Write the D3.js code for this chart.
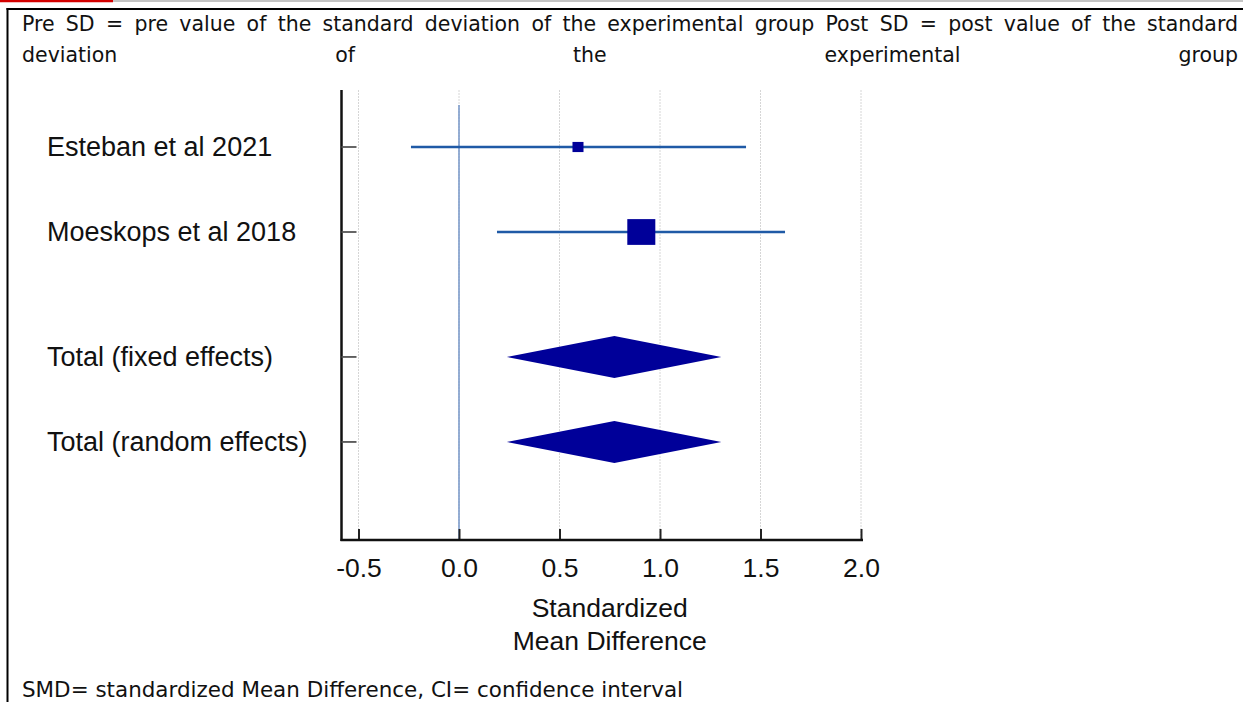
<!DOCTYPE html>
<html lang="en">
<head>
    <meta charset="UTF-8">
    <title>Forest plot - SMD</title>
    <style>
        body {
            margin: 0;
            background-color: #ffffff;
            overflow: hidden;
        }
        svg {
            display: block;
        }
        .note {
            font-family: "DejaVu Sans", sans-serif;
            font-size: 20.5px;
            fill: #111;
        }
        .label, .tick text, .axis-title {
            font-family: "Liberation Sans", Arial, sans-serif;
            font-size: 26.5px;
            fill: #111;
        }
        .label {
            font-size: 27px;
        }
    </style>
</head>
<body>
    <svg id="chart"></svg>

    <script src="https://d3js.org/d3.v7.min.js"></script>
    <script>
        // study rows
        const studies = ["Esteban et al 2021", "Moeskops et al 2018"];
        const smd = [0.592, 0.907];
        const ciLow = [-0.239, 0.189];
        const ciHigh = [1.428, 1.622];
        const weights = [13.4, 86.6]; // % weight, drives square size

        // pooled rows
        const totals = ["Total (fixed effects)", "Total (random effects)"];
        const totalSmd = [0.773, 0.773];
        const totalLow = [0.238, 0.238];
        const totalHigh = [1.305, 1.305];

        const xTicks = [-0.5, 0, 0.5, 1.0, 1.5, 2.0];
        const xTitle = ["Standardized", "Mean Difference"];

        const headerLines = [
            "Pre SD = pre value of the standard deviation of the experimental group Post SD = post value of the standard",
            "deviation of the experimental group"
        ];
        const footnote = "SMD= standardized Mean Difference, CI= confidence interval";

        const W = 1243, H = 702;
        const svg = d3.select("#chart").attr("width", W).attr("height", H);

        svg.append("rect").attr("width", W).attr("height", H).attr("fill", "#fff");

        // page frame bits around the figure
        svg.append("line").attr("x1", 0).attr("x2", W).attr("y1", 1).attr("y2", 1)
            .attr("stroke", "#b0b0b0").attr("stroke-width", 1.5);
        svg.append("line").attr("x1", 0).attr("x2", 113).attr("y1", 1).attr("y2", 1)
            .attr("stroke", "#d40000").attr("stroke-width", 2.5);
        svg.append("line").attr("x1", 6.5).attr("x2", W).attr("y1", 9).attr("y2", 9)
            .attr("stroke", "#000").attr("stroke-width", 2);
        svg.append("line").attr("x1", 7.5).attr("x2", 7.5).attr("y1", 8).attr("y2", H)
            .attr("stroke", "#000").attr("stroke-width", 2);

        // justified header text, word by word
        const textLeft = 22, textRight = 1238;
        const lineBase = [31, 62];
        headerLines.forEach((line, i) => {
            const words = line.split(" ");
            const g = svg.append("g");
            const nodes = g.selectAll("text").data(words).enter().append("text")
                .attr("class", "note")
                .attr("y", lineBase[i])
                .text(d => d);
            const widths = nodes.nodes().map(n => n.getComputedTextLength());
            const gap = (textRight - textLeft - d3.sum(widths)) / (words.length - 1);
            let cx = textLeft;
            nodes.attr("x", (d, j) => {
                const pos = cx;
                cx += widths[j] + gap;
                return pos;
            });
        });

        svg.append("text").attr("class", "note")
            .attr("x", textLeft).attr("y", 697)
            .attr("textLength", 661).attr("lengthAdjust", "spacingAndGlyphs")
            .text(footnote);

        // scales
        const x = d3.scaleLinear().domain([-0.5, 2.0]).range([358.5, 861]);
        const rowY = d3.scaleLinear().domain([0, 1]).range([147, 232]);
        const size = d3.scaleSqrt().domain([0, 100]).range([0, 30.1]);

        const axisLeftX = 341.5, plotTop = 90, plotBottom = 540;

        const rows = studies.map((s, i) => ({
            name: s, est: smd[i], lo: ciLow[i], hi: ciHigh[i], w: weights[i], pos: i
        }));
        const pooled = totals.map((s, i) => ({
            name: s, est: totalSmd[i], lo: totalLow[i], hi: totalHigh[i], pos: studies.length + 0.47 + i
        }));
        const allRows = rows.concat(pooled);

        // gridlines
        svg.append("g").selectAll("line").data(xTicks).enter().append("line")
            .attr("x1", d => x(d)).attr("x2", d => x(d))
            .attr("y1", plotTop).attr("y2", plotBottom)
            .attr("stroke", "#d6d6d6").attr("stroke-width", 1)
            .attr("stroke-dasharray", "2,1");

        // line of no effect
        svg.append("line")
            .attr("x1", x(0)).attr("x2", x(0))
            .attr("y1", 105).attr("y2", plotBottom)
            .attr("stroke", "#7496c8").attr("stroke-width", 1.5);

        // x axis
        const xAxis = svg.append("g")
            .attr("transform", `translate(0,${plotBottom})`)
            .call(d3.axisBottom(x).tickValues(xTicks)
                .tickFormat(d3.format(".1f"))
                .tickSizeInner(-11).tickSizeOuter(0).tickPadding(18));
        xAxis.select(".domain").remove();
        xAxis.selectAll(".tick line").attr("stroke", "#222").attr("stroke-width", 2);
        xAxis.selectAll(".tick text").attr("fill", "#111")
            .text(d => d3.format(".1f")(d).replace("−", "-"));
        xAxis.attr("font-family", null).attr("font-size", null);

        svg.append("line")
            .attr("x1", axisLeftX - 1).attr("x2", 863)
            .attr("y1", plotBottom).attr("y2", plotBottom)
            .attr("stroke", "#111").attr("stroke-width", 2.5);

        // y axis
        svg.append("line")
            .attr("x1", axisLeftX).attr("x2", axisLeftX)
            .attr("y1", plotTop).attr("y2", plotBottom + 1)
            .attr("stroke", "#111").attr("stroke-width", 2.5);
        svg.append("g").selectAll("line").data(allRows).enter().append("line")
            .attr("x1", axisLeftX).attr("x2", axisLeftX + 15)
            .attr("y1", d => rowY(d.pos)).attr("y2", d => rowY(d.pos))
            .attr("stroke", "#555").attr("stroke-width", 1.8);

        // row labels
        svg.append("g").selectAll("text").data(allRows).enter().append("text")
            .attr("class", "label")
            .attr("x", 47)
            .attr("y", d => rowY(d.pos))
            .attr("dy", "0.35em")
            .text(d => d.name);

        // axis title
        svg.append("g").selectAll("text").data(xTitle).enter().append("text")
            .attr("class", "axis-title")
            .attr("x", x(0.75))
            .attr("y", (d, i) => 617 + i * 33)
            .attr("text-anchor", "middle")
            .text(d => d);

        // confidence intervals
        svg.append("g").selectAll("line").data(rows).enter().append("line")
            .attr("x1", d => x(d.lo)).attr("x2", d => x(d.hi))
            .attr("y1", d => rowY(d.pos)).attr("y2", d => rowY(d.pos))
            .attr("stroke", "#1f5aa6").attr("stroke-width", 2.5);

        // point estimates
        svg.append("g").selectAll("rect").data(rows).enter().append("rect")
            .attr("x", d => x(d.est) - size(d.w) / 2)
            .attr("y", d => rowY(d.pos) - size(d.w) * 0.46)
            .attr("width", d => size(d.w))
            .attr("height", d => size(d.w) * 0.92)
            .attr("fill", "#000099");

        // pooled diamonds
        const halfH = 21;
        svg.append("g").selectAll("path").data(pooled).enter().append("path")
            .attr("d", d => {
                const cy = rowY(d.pos);
                return `M${x(d.lo)},${cy}L${x(d.est)},${cy - halfH}L${x(d.hi)},${cy}L${x(d.est)},${cy + halfH}Z`;
            })
            .attr("fill", "#000099");
    </script>
</body>
</html>
